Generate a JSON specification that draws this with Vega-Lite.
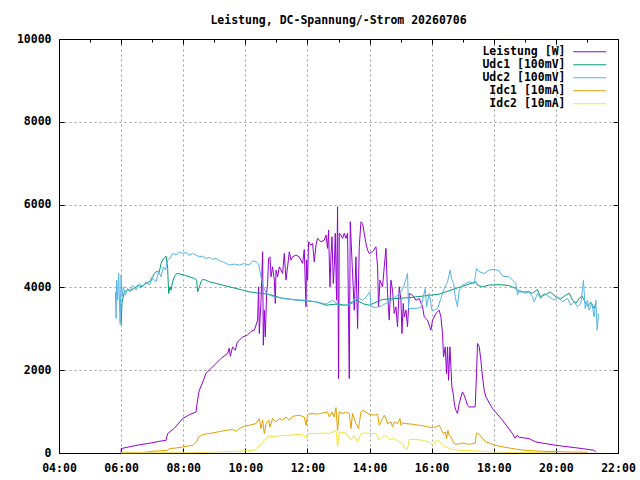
{
  "$schema": "https://vega.github.io/schema/vega-lite/v6.json",
  "autosize": "none",
  "width": 559,
  "height": 414,
  "padding": {"left": 59, "top": 39, "right": 22, "bottom": 27},
  "background": "white",
  "title": {
    "text": "Leistung, DC-Spannung/-Strom 20260706",
    "font": "DejaVu Sans Mono",
    "fontSize": 11.5,
    "fontWeight": "bold",
    "color": "black",
    "anchor": "middle",
    "offset": 7
  },
  "datasets": {
    "P": [
      {"h":6.000,"v":10},{"h":6.001,"v":106},{"h":6.266,"v":150},{"h":6.588,"v":198},{"h":6.910,"v":235},{"h":7.232,"v":283},{"h":7.447,"v":307},{"h":7.499,"v":469},{"h":7.714,"v":597},{"h":7.981,"v":832},{"h":8.197,"v":924},{"h":8.413,"v":991},{"h":8.438,"v":1153},{"h":8.487,"v":1395},{"h":8.519,"v":1516},{"h":8.615,"v":1685},{"h":8.734,"v":1927},{"h":8.905,"v":2048},{"h":9.056,"v":2162},{"h":9.227,"v":2290},{"h":9.430,"v":2403},{"h":9.484,"v":2532},{"h":9.517,"v":2338},{"h":9.591,"v":2563},{"h":9.678,"v":2483},{"h":9.742,"v":2677},{"h":9.912,"v":2805},{"h":10.064,"v":2846},{"h":10.192,"v":2943},{"h":10.289,"v":2967},{"h":10.344,"v":3088},{"h":10.395,"v":3209},{"h":10.427,"v":4014},{"h":10.450,"v":2887},{"h":10.505,"v":3692},{"h":10.556,"v":4860},{"h":10.579,"v":2604},{"h":10.611,"v":3450},{"h":10.643,"v":2805},{"h":10.685,"v":3854},{"h":10.717,"v":4096},{"h":10.749,"v":4701},{"h":10.794,"v":4739},{"h":10.827,"v":4256},{"h":10.878,"v":4497},{"h":10.933,"v":4176},{"h":10.965,"v":3612},{"h":10.988,"v":4418},{"h":11.039,"v":4256},{"h":11.094,"v":4497},{"h":11.148,"v":4418},{"h":11.200,"v":4338},{"h":11.255,"v":4821},{"h":11.309,"v":4176},{"h":11.361,"v":4497},{"h":11.416,"v":4860},{"h":11.470,"v":4660},{"h":11.522,"v":4739},{"h":11.631,"v":4780},{"h":11.737,"v":4739},{"h":11.844,"v":4580},{"h":11.898,"v":4918},{"h":11.953,"v":3530},{"h":11.972,"v":4660},{"h":12.005,"v":4176},{"h":12.037,"v":5102},{"h":12.114,"v":5022},{"h":12.166,"v":5063},{"h":12.220,"v":4618},{"h":12.275,"v":5022},{"h":12.326,"v":5184},{"h":12.436,"v":5102},{"h":12.542,"v":5143},{"h":12.597,"v":5264},{"h":12.648,"v":4942},{"h":12.680,"v":5385},{"h":12.725,"v":4014},{"h":12.758,"v":4780},{"h":12.790,"v":5223},{"h":12.832,"v":4096},{"h":12.864,"v":4497},{"h":12.896,"v":5305},{"h":12.938,"v":3692},{"h":12.970,"v":5948},{"h":13.002,"v":1799},{"h":13.025,"v":5305},{"h":13.080,"v":5264},{"h":13.131,"v":5184},{"h":13.186,"v":5305},{"h":13.240,"v":5184},{"h":13.292,"v":5305},{"h":13.347,"v":1799},{"h":13.379,"v":5586},{"h":13.453,"v":4338},{"h":13.508,"v":3450},{"h":13.562,"v":4739},{"h":13.614,"v":3008},{"h":13.669,"v":4981},{"h":13.723,"v":5586},{"h":13.775,"v":5547},{"h":13.829,"v":5305},{"h":13.884,"v":5063},{"h":13.936,"v":4901},{"h":13.990,"v":4821},{"h":14.097,"v":4860},{"h":14.206,"v":4981},{"h":14.258,"v":4497},{"h":14.290,"v":3530},{"h":14.335,"v":4176},{"h":14.418,"v":4014},{"h":14.473,"v":4497},{"h":14.528,"v":4942},{"h":14.579,"v":3854},{"h":14.634,"v":3209},{"h":14.689,"v":4176},{"h":14.740,"v":3934},{"h":14.795,"v":3371},{"h":14.850,"v":3530},{"h":14.901,"v":3047},{"h":14.956,"v":4014},{"h":15.011,"v":3692},{"h":15.043,"v":2887},{"h":15.085,"v":3612},{"h":15.117,"v":3288},{"h":15.172,"v":3450},{"h":15.223,"v":3047},{"h":15.278,"v":3854},{"h":15.384,"v":3813},{"h":15.493,"v":3692},{"h":15.600,"v":3733},{"h":15.706,"v":3530},{"h":15.761,"v":3288},{"h":15.867,"v":3209},{"h":15.976,"v":2967},{"h":16.028,"v":3209},{"h":16.137,"v":3371},{"h":16.243,"v":3450},{"h":16.298,"v":3288},{"h":16.350,"v":2887},{"h":16.382,"v":2321},{"h":16.437,"v":2563},{"h":16.478,"v":1920},{"h":16.511,"v":2563},{"h":16.543,"v":1758},{"h":16.588,"v":2563},{"h":16.620,"v":2079},{"h":16.652,"v":1596},{"h":16.694,"v":1436},{"h":16.736,"v":1153},{"h":16.781,"v":1032},{"h":16.832,"v":953},{"h":16.887,"v":1194},{"h":16.942,"v":1354},{"h":16.993,"v":1475},{"h":17.048,"v":1395},{"h":17.103,"v":1274},{"h":17.154,"v":1153},{"h":17.209,"v":1112},{"h":17.402,"v":1112},{"h":17.444,"v":1920},{"h":17.476,"v":2645},{"h":17.531,"v":2563},{"h":17.585,"v":2241},{"h":17.637,"v":1838},{"h":17.692,"v":1516},{"h":17.746,"v":1354},{"h":17.959,"v":1074},{"h":18.281,"v":791},{"h":18.602,"v":469},{"h":18.689,"v":355},{"h":18.754,"v":428},{"h":18.818,"v":380},{"h":19.140,"v":348},{"h":19.356,"v":266},{"h":19.999,"v":186},{"h":20.856,"v":106},{"h":21.232,"v":65},{"h":21.287,"v":17}
    ],
    "U1": [
      {"h":6.000,"v":3088},{"h":6.031,"v":3651},{"h":6.105,"v":3893},{"h":6.211,"v":3934},{"h":6.321,"v":3934},{"h":6.427,"v":3975},{"h":6.533,"v":4055},{"h":6.642,"v":4014},{"h":6.803,"v":4096},{"h":6.910,"v":4135},{"h":7.016,"v":4256},{"h":7.070,"v":4338},{"h":7.125,"v":4377},{"h":7.231,"v":4377},{"h":7.286,"v":4580},{"h":7.338,"v":4660},{"h":7.447,"v":4756},{"h":7.466,"v":4660},{"h":7.499,"v":4459},{"h":7.531,"v":3854},{"h":7.576,"v":4014},{"h":7.608,"v":3934},{"h":7.660,"v":4135},{"h":7.714,"v":4256},{"h":7.769,"v":4321},{"h":7.820,"v":4338},{"h":7.930,"v":4314},{"h":8.036,"v":4297},{"h":8.197,"v":4256},{"h":8.358,"v":4217},{"h":8.432,"v":4176},{"h":8.464,"v":3893},{"h":8.519,"v":4014},{"h":8.574,"v":4135},{"h":8.625,"v":4193},{"h":8.734,"v":4176},{"h":8.841,"v":4135},{"h":9.056,"v":4096},{"h":9.269,"v":4055},{"h":9.484,"v":4014},{"h":9.700,"v":3975},{"h":9.912,"v":3934},{"h":10.128,"v":3893},{"h":10.344,"v":3869},{"h":10.556,"v":3854},{"h":10.772,"v":3830},{"h":11.200,"v":3733},{"h":11.737,"v":3692},{"h":12.275,"v":3651},{"h":12.597,"v":3571},{"h":12.919,"v":3596},{"h":13.240,"v":3571},{"h":13.562,"v":3692},{"h":13.829,"v":3596},{"h":13.990,"v":3571},{"h":14.418,"v":3709},{"h":14.850,"v":3733},{"h":15.278,"v":3753},{"h":15.706,"v":3789},{"h":16.243,"v":3837},{"h":16.459,"v":3893},{"h":16.781,"v":3975},{"h":17.103,"v":4055},{"h":17.425,"v":4135},{"h":17.476,"v":4055},{"h":17.637,"v":4014},{"h":17.852,"v":4055},{"h":18.174,"v":4067},{"h":18.496,"v":4043},{"h":18.712,"v":3975},{"h":18.818,"v":3893},{"h":19.140,"v":3893},{"h":19.246,"v":3854},{"h":19.400,"v":3950},{"h":19.500,"v":3780},{"h":19.678,"v":3830},{"h":19.820,"v":3890},{"h":19.999,"v":3772},{"h":20.140,"v":3720},{"h":20.321,"v":3813},{"h":20.430,"v":3860},{"h":20.534,"v":3692},{"h":20.650,"v":3620},{"h":20.749,"v":3733},{"h":20.840,"v":3790},{"h":20.965,"v":3612},{"h":21.030,"v":3550},{"h":21.126,"v":3644},{"h":21.232,"v":3492},{"h":21.287,"v":3620}
    ],
    "U2": [
      {"h":5.815,"v":3893},{"h":5.838,"v":3250},{"h":5.857,"v":4176},{"h":5.889,"v":3692},{"h":5.921,"v":4338},{"h":5.967,"v":3129},{"h":5.999,"v":4297},{"h":6.031,"v":3772},{"h":6.073,"v":4014},{"h":6.137,"v":3813},{"h":6.211,"v":3975},{"h":6.288,"v":3893},{"h":6.372,"v":4055},{"h":6.481,"v":3934},{"h":6.588,"v":4096},{"h":6.694,"v":4014},{"h":6.803,"v":4135},{"h":6.910,"v":4055},{"h":7.016,"v":4217},{"h":7.125,"v":4135},{"h":7.209,"v":4377},{"h":7.286,"v":4256},{"h":7.360,"v":4497},{"h":7.425,"v":4418},{"h":7.499,"v":4660},{"h":7.576,"v":4701},{"h":7.660,"v":4821},{"h":7.769,"v":4780},{"h":7.875,"v":4860},{"h":7.981,"v":4821},{"h":8.091,"v":4841},{"h":8.197,"v":4780},{"h":8.303,"v":4821},{"h":8.413,"v":4780},{"h":8.519,"v":4739},{"h":8.625,"v":4756},{"h":8.734,"v":4701},{"h":8.841,"v":4725},{"h":8.947,"v":4676},{"h":9.056,"v":4701},{"h":9.163,"v":4643},{"h":9.269,"v":4618},{"h":9.378,"v":4580},{"h":9.484,"v":4539},{"h":9.645,"v":4563},{"h":9.806,"v":4539},{"h":9.967,"v":4575},{"h":10.128,"v":4539},{"h":10.234,"v":4643},{"h":10.344,"v":4618},{"h":10.427,"v":4563},{"h":10.505,"v":4256},{"h":10.579,"v":4014},{"h":10.666,"v":3874},{"h":10.772,"v":3813},{"h":10.988,"v":3758},{"h":11.309,"v":3733},{"h":11.631,"v":3692},{"h":11.953,"v":3692},{"h":12.275,"v":3651},{"h":12.597,"v":3596},{"h":12.809,"v":3692},{"h":13.025,"v":3571},{"h":13.240,"v":3571},{"h":13.453,"v":3620},{"h":13.562,"v":3772},{"h":13.775,"v":3692},{"h":13.884,"v":3765},{"h":14.013,"v":3893},{"h":14.045,"v":3530},{"h":14.206,"v":3516},{"h":14.367,"v":3547},{"h":14.528,"v":3612},{"h":14.634,"v":3644},{"h":14.850,"v":3772},{"h":15.011,"v":3893},{"h":15.117,"v":4055},{"h":15.223,"v":4338},{"h":15.255,"v":3492},{"h":15.493,"v":3492},{"h":15.654,"v":3516},{"h":15.706,"v":3692},{"h":15.793,"v":3975},{"h":15.835,"v":3530},{"h":15.922,"v":3854},{"h":16.008,"v":3450},{"h":16.082,"v":3450},{"h":16.189,"v":3492},{"h":16.298,"v":3733},{"h":16.404,"v":3975},{"h":16.511,"v":4135},{"h":16.597,"v":4418},{"h":16.639,"v":4217},{"h":16.704,"v":4096},{"h":16.758,"v":3772},{"h":16.832,"v":3530},{"h":16.887,"v":3934},{"h":16.993,"v":4055},{"h":17.103,"v":4096},{"h":17.209,"v":4135},{"h":17.370,"v":4096},{"h":17.444,"v":4459},{"h":17.531,"v":4377},{"h":17.692,"v":4338},{"h":17.852,"v":4418},{"h":18.013,"v":4435},{"h":18.174,"v":4401},{"h":18.281,"v":4273},{"h":18.496,"v":4256},{"h":18.602,"v":4176},{"h":18.712,"v":4096},{"h":18.763,"v":3813},{"h":18.818,"v":3934},{"h":18.925,"v":3893},{"h":19.034,"v":3854},{"h":19.140,"v":3893},{"h":19.246,"v":3772},{"h":19.301,"v":3651},{"h":19.407,"v":3854},{"h":19.517,"v":3733},{"h":19.623,"v":3854},{"h":19.784,"v":3772},{"h":19.945,"v":3692},{"h":20.051,"v":3772},{"h":20.212,"v":3651},{"h":20.373,"v":3733},{"h":20.483,"v":3571},{"h":20.589,"v":3651},{"h":20.695,"v":3530},{"h":20.805,"v":3612},{"h":20.888,"v":4176},{"h":20.943,"v":3492},{"h":21.017,"v":3692},{"h":21.072,"v":3450},{"h":21.158,"v":3612},{"h":21.232,"v":3288},{"h":21.287,"v":3692},{"h":21.329,"v":2967},{"h":21.371,"v":3371}
    ],
    "I1": [
      {"h":6.000,"v":10},{"h":6.694,"v":10},{"h":7.016,"v":41},{"h":7.499,"v":65},{"h":7.553,"v":106},{"h":7.769,"v":121},{"h":7.981,"v":145},{"h":8.303,"v":186},{"h":8.432,"v":266},{"h":8.496,"v":387},{"h":8.625,"v":445},{"h":8.841,"v":469},{"h":9.056,"v":501},{"h":9.378,"v":549},{"h":9.591,"v":566},{"h":9.700,"v":525},{"h":9.806,"v":590},{"h":9.967,"v":646},{"h":10.128,"v":670},{"h":10.344,"v":711},{"h":10.450,"v":832},{"h":10.505,"v":590},{"h":10.556,"v":791},{"h":10.611,"v":469},{"h":10.666,"v":711},{"h":10.749,"v":791},{"h":10.794,"v":629},{"h":10.878,"v":832},{"h":10.988,"v":750},{"h":11.094,"v":832},{"h":11.200,"v":791},{"h":11.309,"v":870},{"h":11.416,"v":791},{"h":11.522,"v":887},{"h":11.737,"v":912},{"h":11.898,"v":870},{"h":11.953,"v":670},{"h":12.005,"v":936},{"h":12.166,"v":953},{"h":12.326,"v":936},{"h":12.487,"v":967},{"h":12.648,"v":991},{"h":12.703,"v":870},{"h":12.790,"v":991},{"h":12.864,"v":870},{"h":12.919,"v":1098},{"h":12.970,"v":549},{"h":13.025,"v":991},{"h":13.131,"v":953},{"h":13.240,"v":991},{"h":13.347,"v":953},{"h":13.402,"v":590},{"h":13.453,"v":953},{"h":13.562,"v":711},{"h":13.646,"v":590},{"h":13.723,"v":991},{"h":13.775,"v":1032},{"h":13.884,"v":991},{"h":13.990,"v":936},{"h":14.150,"v":912},{"h":14.258,"v":936},{"h":14.312,"v":670},{"h":14.367,"v":750},{"h":14.418,"v":832},{"h":14.473,"v":912},{"h":14.528,"v":832},{"h":14.579,"v":711},{"h":14.689,"v":750},{"h":14.740,"v":629},{"h":14.795,"v":750},{"h":14.901,"v":711},{"h":14.979,"v":832},{"h":15.011,"v":670},{"h":15.062,"v":725},{"h":15.172,"v":711},{"h":15.384,"v":694},{"h":15.600,"v":670},{"h":15.815,"v":646},{"h":15.976,"v":614},{"h":16.137,"v":629},{"h":16.243,"v":670},{"h":16.298,"v":590},{"h":16.372,"v":469},{"h":16.437,"v":508},{"h":16.478,"v":348},{"h":16.523,"v":549},{"h":16.565,"v":428},{"h":16.620,"v":387},{"h":16.671,"v":307},{"h":16.726,"v":227},{"h":16.832,"v":210},{"h":16.993,"v":242},{"h":17.209,"v":210},{"h":17.402,"v":242},{"h":17.444,"v":484},{"h":17.508,"v":469},{"h":17.637,"v":348},{"h":17.746,"v":266},{"h":17.959,"v":210},{"h":18.174,"v":162},{"h":18.496,"v":121},{"h":18.818,"v":82},{"h":19.140,"v":58},{"h":19.568,"v":41},{"h":20.427,"v":24},{"h":21.017,"v":17}
    ],
    "I2": [
      {"h":6.000,"v":5},{"h":8.413,"v":10},{"h":9.163,"v":24},{"h":9.912,"v":48},{"h":10.234,"v":65},{"h":10.344,"v":82},{"h":10.450,"v":186},{"h":10.556,"v":266},{"h":10.666,"v":348},{"h":10.772,"v":404},{"h":10.988,"v":404},{"h":11.200,"v":428},{"h":11.416,"v":428},{"h":11.631,"v":445},{"h":11.844,"v":452},{"h":11.953,"v":348},{"h":12.005,"v":469},{"h":12.275,"v":469},{"h":12.487,"v":484},{"h":12.703,"v":469},{"h":12.919,"v":549},{"h":12.970,"v":145},{"h":13.025,"v":508},{"h":13.240,"v":484},{"h":13.402,"v":307},{"h":13.508,"v":428},{"h":13.614,"v":266},{"h":13.723,"v":469},{"h":13.884,"v":484},{"h":14.097,"v":469},{"h":14.206,"v":469},{"h":14.312,"v":307},{"h":14.418,"v":387},{"h":14.528,"v":428},{"h":14.634,"v":324},{"h":14.795,"v":348},{"h":14.956,"v":266},{"h":15.062,"v":227},{"h":15.172,"v":82},{"h":15.223,"v":106},{"h":15.278,"v":324},{"h":15.493,"v":324},{"h":15.706,"v":307},{"h":15.922,"v":266},{"h":16.028,"v":186},{"h":16.137,"v":290},{"h":16.243,"v":290},{"h":16.350,"v":186},{"h":16.459,"v":145},{"h":16.671,"v":82},{"h":16.887,"v":65},{"h":17.209,"v":58},{"h":17.531,"v":48},{"h":17.852,"v":24},{"h":18.281,"v":17},{"h":18.818,"v":10},{"h":19.999,"v":10}
    ]
  },
  "layer": [
    {
      "layer": [
        {
          "data": {"name": "P"},
          "mark": {"type": "line", "strokeWidth": 1},
          "encoding": {
            "x": {
              "field": "h", "type": "quantitative",
              "scale": {"domain": [4, 22], "nice": false, "zero": false},
              "axis": {
                "orient": "bottom", "title": null,
                "values": [4,5,6,7,8,9,10,11,12,13,14,15,16,17,18,19,20,21,22],
                "labelExpr": "datum.value % 2 == 0 ? (datum.value < 10 ? '0' : '') + datum.value + ':00' : ''",
                "tickSize": {"condition": {"test": "datum.value % 2 == 1", "value": -3}, "value": -5},
                "gridOpacity": {"condition": {"test": "datum.value % 2 == 1", "value": 0}, "value": 1},
                "labelPadding": 14
              }
            },
            "y": {
              "field": "v", "type": "quantitative",
              "scale": {"domain": [0, 10000], "nice": false},
              "axis": {
                "orient": "left", "title": null,
                "values": [0, 2000, 4000, 6000, 8000, 10000],
                "format": "d",
                "tickSize": -5,
                "labelPadding": 13
              }
            },
            "color": {
              "datum": "Leistung [W]",
              "scale": {
                "domain": ["Leistung [W]", "Udc1 [100mV]", "Udc2 [100mV]", "Idc1 [10mA]", "Idc2 [10mA]"],
                "range": ["#9400d3", "#009e73", "#56b4e9", "#e69f00", "#f0e442"]
              },
              "legend": {
                "orient": "none", "legendX": 525, "legendY": 7, "title": null,
                "symbolType": "M-6,0H6", "symbolSize": 30, "symbolStrokeWidth": 1,
                "labelAlign": "right", "labelOffset": -30, "rowPadding": 0, "padding": 0
              }
            }
          }
        },
        {
          "data": {"name": "U1"},
          "mark": {"type": "line", "strokeWidth": 1},
          "encoding": {
            "x": {"field": "h", "type": "quantitative"},
            "y": {"field": "v", "type": "quantitative"},
            "color": {"datum": "Udc1 [100mV]"}
          }
        },
        {
          "data": {"name": "U2"},
          "mark": {"type": "line", "strokeWidth": 1},
          "encoding": {
            "x": {"field": "h", "type": "quantitative"},
            "y": {"field": "v", "type": "quantitative"},
            "color": {"datum": "Udc2 [100mV]"}
          }
        },
        {
          "data": {"name": "I1"},
          "mark": {"type": "line", "strokeWidth": 1},
          "encoding": {
            "x": {"field": "h", "type": "quantitative"},
            "y": {"field": "v", "type": "quantitative"},
            "color": {"datum": "Idc1 [10mA]"}
          }
        },
        {
          "data": {"name": "I2"},
          "mark": {"type": "line", "strokeWidth": 1},
          "encoding": {
            "x": {"field": "h", "type": "quantitative"},
            "y": {"field": "v", "type": "quantitative"},
            "color": {"datum": "Idc2 [10mA]"}
          }
        }
      ]
    },
    {
      "data": {"name": "I2"},
      "mark": {"type": "line", "opacity": 0},
      "encoding": {
        "x": {
          "field": "h", "type": "quantitative",
          "axis": {
            "orient": "top", "title": null, "labels": false, "grid": false,
            "values": [4,5,6,7,8,9,10,11,12,13,14,15,16,17,18,19,20,21,22],
            "tickSize": {"condition": {"test": "datum.value % 2 == 1", "value": -3}, "value": -5}
          }
        },
        "y": {
          "field": "v", "type": "quantitative",
          "axis": {
            "orient": "right", "title": null, "labels": false, "grid": false,
            "values": [0, 2000, 4000, 6000, 8000, 10000],
            "tickSize": -5
          }
        }
      }
    }
  ],
  "resolve": {"axis": {"x": "independent", "y": "independent"}},
  "config": {
    "view": {"stroke": "black", "strokeWidth": 1},
    "axis": {
      "domainColor": "black",
      "tickColor": "black",
      "labelColor": "black",
      "labelFont": "DejaVu Sans Mono",
      "labelFontSize": 11.5,
      "labelFontWeight": "bold",
      "labelFlush": false,
      "labelOverlap": false,
      "grid": true,
      "gridColor": "#a0a0a0",
      "gridDash": [2, 3],
      "gridWidth": 1
    },
    "legend": {
      "labelFont": "DejaVu Sans Mono",
      "labelFontSize": 11.5,
      "labelFontWeight": "bold",
      "labelColor": "black",
      "labelLimit": 200
    }
  }
}
